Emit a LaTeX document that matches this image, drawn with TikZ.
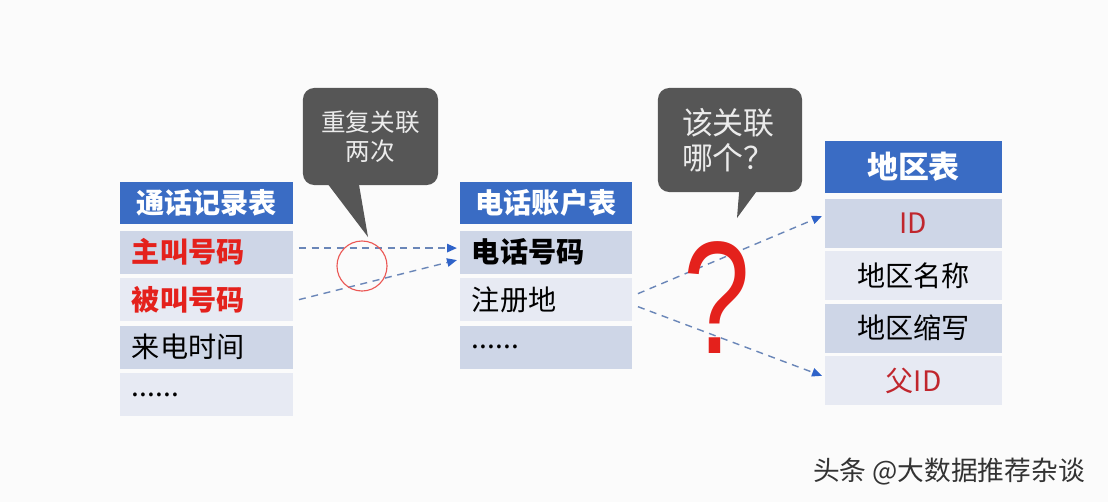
\documentclass[tikz,border=0pt]{standalone}
\usepackage{fontspec}
\newfontfamily\cjk{Noto Sans CJK SC}
\newfontfamily\qfont{Liberation Sans}
\usetikzlibrary{positioning, arrows.meta}

\definecolor{headblue}{HTML}{3A6CC4}
\definecolor{rowdark}{HTML}{CED6E7}
\definecolor{rowlight}{HTML}{E7EAF3}
\definecolor{keyred}{HTML}{E4211C}
\definecolor{idred}{HTML}{C0262D}
\definecolor{linkblue}{HTML}{6A86B8}
\definecolor{tipblue}{HTML}{2F63C9}
\definecolor{bubblegray}{HTML}{565656}

\begin{document}
\begin{tikzpicture}[
  x=0.025cm, y=-0.025cm,
  every node/.style={inner sep=0pt, font=\cjk\fontsize{20}{24}\selectfont},
  header/.style={fill=headblue, text=white, font=\cjk\bfseries\fontsize{20}{24}\selectfont, minimum height=1.05cm},
  rowd/.style={fill=rowdark, minimum height=1.075cm},
  rowl/.style={fill=rowlight, minimum height=1.075cm},
  lrow/.style={inner xsep=0.3cm, text width=#1, align=left},
  keytext/.style={text=keyred, font=\cjk\bfseries\fontsize{20}{24}\selectfont},
  link/.style={draw=linkblue, line width=1pt, dash pattern=on 5pt off 4pt,
    -{Triangle[length=7pt, width=6pt, color=tipblue]}},
  bubble/.style={fill=bubblegray, rounded corners=8pt, text=white!92!black}
]

\useasboundingbox (0,0) rectangle (1108,502);
\fill[gray!3] (0,0) rectangle (1108,502);

% call records
\node[header, minimum width=4.325cm] (callhd) at (206.5,203) {通话记录表};
\node[rowd, lrow=3.725cm, keytext, below=0.15cm of callhd] (caller) {主叫号码};
\node[rowl, lrow=3.725cm, keytext, below=0.1cm of caller] (callee) {被叫号码};
\node[rowd, lrow=3.725cm, below=0.1cm of callee] (calltime) {来电时间};
\node[rowl, lrow=3.725cm, below=0.1cm of calltime] (callmore) {......};

% phone accounts
\node[header, minimum width=4.3cm] (acchd) at (546,203) {电话账户表};
\node[rowd, lrow=3.7cm, font=\cjk\bfseries\fontsize{20}{24}\selectfont, below=0.15cm of acchd] (phone) {电话号码};
\node[rowl, lrow=3.7cm, below=0.1cm of phone] (regplace) {注册地};
\node[rowd, lrow=3.7cm, below=0.1cm of regplace] (accmore) {......};

% regions
\node[header, minimum width=4.425cm, minimum height=1.3cm, font=\cjk\bfseries\fontsize{22}{26}\selectfont] (reghd) at (913.5,167) {地区表};
\node[rowd, minimum width=4.425cm, minimum height=1.225cm, text=idred, below=0.125cm of reghd] (regid) {ID};
\node[rowl, minimum width=4.425cm, minimum height=1.225cm, below=0.075cm of regid] (regname) {地区名称};
\node[rowd, minimum width=4.425cm, minimum height=1.225cm, below=0.075cm of regname] (regabbr) {地区缩写};
\node[rowl, minimum width=4.425cm, minimum height=1.225cm, text=idred, below=0.075cm of regabbr] (regparent) {父ID};

% links
\draw[link] ([xshift=4pt, yshift=0.1cm]caller.east) -- ([xshift=-2pt, yshift=0.1cm]phone.west);
\draw[link] ([xshift=4pt]callee.east) -- ([xshift=-2pt, yshift=-0.2cm]phone.west);
\draw[link] ([xshift=4pt, yshift=0.15cm]regplace.east) -- ([xshift=-2pt, yshift=0.175cm]regid.west);
\draw[link] ([xshift=4pt, yshift=-0.175cm]regplace.east) -- ([xshift=-2pt, yshift=0.125cm]regparent.west);

\node[circle, draw=keyred!75, line width=0.8pt, minimum size=1.25cm] (twice) at (362,266) {};

% bubbles
\node[bubble, minimum width=3.375cm, minimum height=2.425cm, align=center,
  font=\cjk\fontsize{17.5}{21}\selectfont] (dup) at (370.5,136.5) {重复关联\\两次};
\coordinate (duptip) at (368,237);
\fill[bubblegray] ([xshift=0.5cm, yshift=0.2cm]dup.south west) -- (duptip)
  -- ([xshift=1.375cm, yshift=0.2cm]dup.south west) -- cycle;

\node[bubble, minimum height=2.6cm, inner xsep=0.6cm, text width=2.4cm, align=left,
  font=\cjk\fontsize{22}{25}\selectfont] (which) at (730,140) {该关联\\哪个？};
\coordinate (whichtip) at (737,218);
\fill[bubblegray] ([xshift=2.05cm, yshift=0.2cm]which.south west) -- (whichtip)
  -- ([xshift=2.6cm, yshift=0.2cm]which.south west) -- cycle;

\node[text=keyred, xscale=0.75, font=\qfont\fontsize{114}{114}\selectfont] (qm) at (717,298) {?};

\node[text=black!80, font=\cjk\fontsize{19}{22}\selectfont] (mark) at (949,472) {头条 @大数据推荐杂谈};

\end{tikzpicture}
\end{document}
